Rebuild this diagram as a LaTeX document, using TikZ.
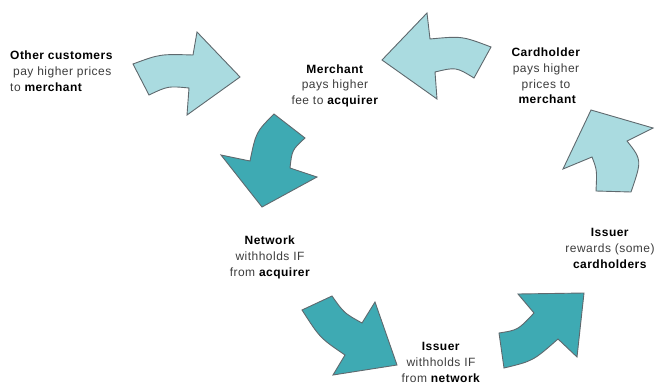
\documentclass[tikz,border=0pt]{standalone}
\usepackage{fontspec}
\setmainfont{Liberation Sans}[LetterSpace=4]
\definecolor{lightfill}{RGB}{170,219,224}
\definecolor{darkfill}{RGB}{62,170,179}
\definecolor{edgegray}{RGB}{95,105,110}
\definecolor{txtgray}{RGB}{60,60,60}
\newcommand\mybold[1]{\textcolor{black}{\textbf{#1}}}
\tikzset{
  lightarrow/.style={fill=lightfill, draw=edgegray, line width=0.9pt, line join=miter},
  darkarrow/.style={fill=darkfill, draw=edgegray, line width=0.9pt, line join=miter},
  lbl/.style={align=center, anchor=base, inner sep=0pt, text=txtgray,
    font=\fontsize{12}{15.8}\selectfont},
  lbll/.style={lbl, align=left, anchor=base west}
}
\begin{document}
\begin{tikzpicture}[x=1pt,y=-1pt]
\useasboundingbox (0,0) rectangle (655,385);
% arrows
\draw[lightarrow] (133,64) .. controls (160,54) .. (193,55) -- (197,32) -- (240,77)
  -- (187,115) -- (189,88) .. controls (168,86) .. (149,95) -- cycle;
\draw[lightarrow] (382,60) -- (427,13) -- (430,39) .. controls (462,36) .. (491,47)
  -- (474,78) .. controls (456,67) .. (435,72) -- (437,99) -- cycle;
\draw[lightarrow] (591,110) -- (653,128) -- (627,141) .. controls (642,160) .. (631,192)
  -- (596,191) .. controls (597,170) .. (592,157) -- (563,169) -- cycle;
\draw[darkarrow] (274,114) -- (305,138) .. controls (292,150) .. (290,168) -- (317,177)
  -- (262,207) -- (221,155) -- (250,161) .. controls (256,132) .. (274,114) -- cycle;
\draw[darkarrow] (332,296) .. controls (344,313) .. (362,323) -- (375,302) -- (397,365)
  -- (333,375) -- (345,355) .. controls (320,338) .. (302,310) -- cycle;
\draw[darkarrow] (518,294) -- (584,293) -- (577,357) -- (558,339) .. controls (533,361) ..
  (504,368) -- (499,333) .. controls (518,330) .. (534,313) -- cycle;
% labels (anchor base = baseline of the last line)
\node[lbll] (other) at (10,91.1) {\mybold{Other customers}\\\hspace*{3pt}pay higher prices\\to \mybold{merchant}};
\node[lbl] (merchant) at (335,104.6) {\mybold{Merchant}\\pays higher\\fee to \mybold{acquirer}};
\node[lbl] (cardholder) at (546,103.9) {\mybold{Cardholder}\\pays higher\\prices to\\\hspace*{3pt}\mybold{merchant}};
\node[lbl] (network) at (270,276.1) {\mybold{Network}\\withholds IF\\from \mybold{acquirer}};
\node[lbl] (issuer1) at (441,382.1) {\mybold{Issuer}\\withholds IF\\from \mybold{network}};
\node[lbl] (issuer2) at (610,268.1) {\mybold{Issuer}\\rewards (some)\\\mybold{cardholders}};
\end{tikzpicture}
\end{document}
